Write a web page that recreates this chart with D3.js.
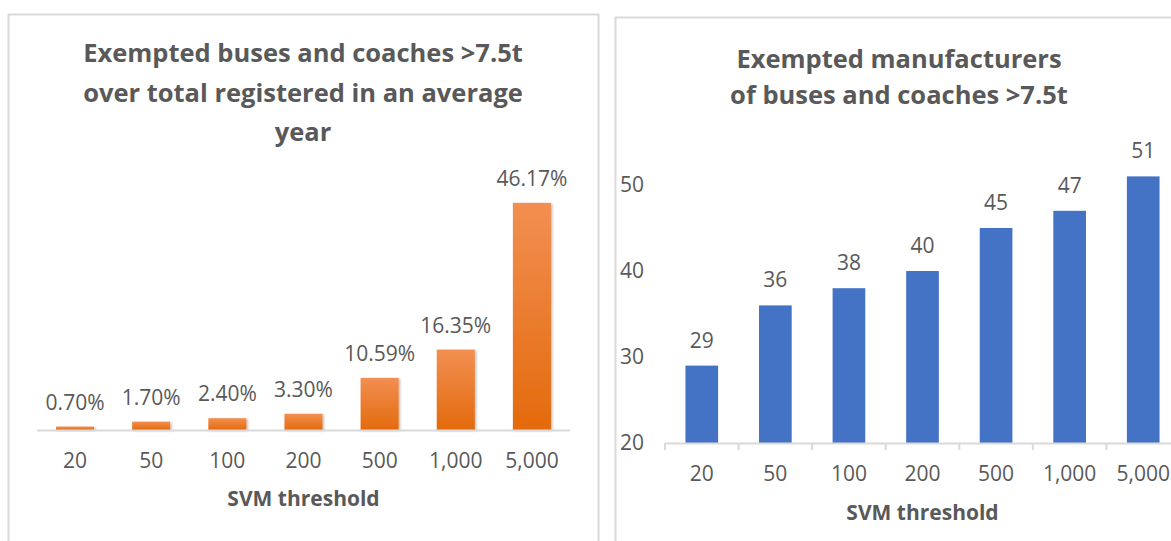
<!DOCTYPE html>
<html>
<head>
<meta charset="utf-8">
<script src="https://cdn.jsdelivr.net/npm/d3@7"></script>
<style>
  html, body { margin: 0; padding: 0; background: #fff; }
  svg { display: block; }
  text { font-family: 'Open Sans', 'Noto Sans', sans-serif; fill: #595959; }
</style>
</head>
<body>
<svg id="chart" width="1171" height="541"></svg>
<script>
// categories shared by both charts
const thresholds = ['20', '50', '100', '200', '500', '1,000', '5,000']

// left chart: share of exempted buses/coaches (%)
const exemptedShare = [0.70, 1.70, 2.40, 3.30, 10.59, 16.35, 46.17]
const leftTitle = ['Exempted buses and coaches >7.5t', 'over total registered in an average', 'year']

// right chart: number of exempted manufacturers
const exemptedManufacturers = [29, 36, 38, 40, 45, 47, 51]
const rightTitle = ['Exempted manufacturers', 'of buses and coaches >7.5t']
const rightTicks = [20, 30, 40, 50]

const axisTitle = 'SVM threshold'

const svg = d3.select('#chart')
const gridColor = '#d9d9d9'

var defs = svg.append('defs')
var grad = defs.append('linearGradient')
    .attr('id', 'orangeGrad')
    .attr('x1', 0).attr('y1', 0).attr('x2', 0).attr('y2', 1)
grad.append('stop').attr('offset', '0%').attr('stop-color', '#f28f52')
grad.append('stop').attr('offset', '100%').attr('stop-color', '#e36a0c')

var shadow = defs.append('filter').attr('id', 'barShadow')
    .attr('x', '-20%').attr('y', '-20%').attr('width', '150%').attr('height', '150%')
shadow.append('feDropShadow')
    .attr('dx', 1.5).attr('dy', 1).attr('stdDeviation', 1.2)
    .attr('flood-color', '#000').attr('flood-opacity', 0.25)

/* ===== panel frames ===== */
svg.append('rect')
    .attr('x', 8.5).attr('y', 14.5).attr('width', 590).attr('height', 560)
    .style('fill', 'none').style('stroke', gridColor).style('stroke-width', '2px')

svg.append('rect')
    .attr('x', 615.5).attr('y', 17.5).attr('width', 600).attr('height', 560)
    .style('fill', 'none').style('stroke', gridColor).style('stroke-width', '2px')

/* ===== left chart ===== */
const left = svg.append('g').attr('class', 'left')

left.append('text')
    .attr('text-anchor', 'middle')
    .style('font-size', '25.5px').style('font-weight', 'bold')
    .selectAll('tspan')
    .data(leftTitle)
    .enter().append('tspan')
    .attr('x', 303)
    .attr('y', (d, i) => 62 + i * 39.5)
    .text(d => d)

var xL = d3.scaleBand()
    .domain(thresholds)
    .range([37, 570])
    .paddingInner(0.5)
    .paddingOuter(0.25)

var yL = d3.scaleLinear()
    .domain([0, 50])
    .range([430, 184])

left.selectAll('rect.bar')
    .data(exemptedShare)
    .enter().append('rect')
    .attr('class', 'bar')
    .attr('x', (d, i) => xL(thresholds[i]))
    .attr('y', d => yL(d))
    .attr('width', xL.bandwidth())
    .attr('height', d => yL(0) - yL(d))
    .style('fill', 'url(#orangeGrad)')
    .style('filter', 'url(#barShadow)')

left.append('line')
    .attr('x1', 37).attr('x2', 570)
    .attr('y1', yL(0) + 0.5).attr('y2', yL(0) + 0.5)
    .style('stroke', gridColor).style('stroke-width', '2px')

left.selectAll('text.value')
    .data(exemptedShare)
    .enter().append('text')
    .attr('class', 'value')
    .attr('text-anchor', 'middle')
    .attr('x', (d, i) => xL(thresholds[i]) + xL.bandwidth() / 2)
    .attr('y', d => yL(d) - 17)
    .style('font-size', '21px')
    .text(d => d.toFixed(2) + '%')

var xAxisL = left.append('g')
    .attr('transform', `translate(0,${yL(0)})`)
    .call(d3.axisBottom(xL).tickSize(0).tickPadding(38))
xAxisL.select('.domain').remove()
xAxisL.selectAll('text')
    .attr('dy', 0)
    .style('font-size', '21px')
    .style('font-family', null)
    .attr('fill', null)

left.append('text')
    .attr('text-anchor', 'middle')
    .attr('x', (37 + 570) / 2)
    .attr('y', 506)
    .style('font-size', '21px').style('font-weight', 'bold')
    .text(axisTitle)

/* ===== right chart ===== */
const right = svg.append('g').attr('class', 'right')

right.append('text')
    .attr('text-anchor', 'middle')
    .style('font-size', '25.5px').style('font-weight', 'bold')
    .selectAll('tspan')
    .data(rightTitle)
    .enter().append('tspan')
    .attr('x', 899)
    .attr('y', (d, i) => 68 + i * 35.5)
    .text(d => d)

var xR = d3.scaleBand()
    .domain(thresholds)
    .range([665, 1180])
    .paddingInner(0.556)
    .paddingOuter(0.278)

var yR = d3.scaleLinear()
    .domain([20, 55])
    .range([443, 443 - 35 * 8.6])

right.selectAll('rect.bar')
    .data(exemptedManufacturers)
    .enter().append('rect')
    .attr('class', 'bar')
    .attr('x', (d, i) => xR(thresholds[i]))
    .attr('y', d => yR(d))
    .attr('width', xR.bandwidth())
    .attr('height', d => yR(20) - yR(d))
    .style('fill', '#4472c4')

// category axis with tick marks between the bars
var xAxisR = right.append('g')
    .attr('transform', `translate(0,${yR(20)})`)
xAxisR.append('line')
    .attr('x1', 665).attr('x2', 1180)
    .attr('y1', 0.5).attr('y2', 0.5)
    .style('stroke', gridColor).style('stroke-width', '2px')
xAxisR.selectAll('line.tick')
    .data(thresholds.concat(['end']))
    .enter().append('line')
    .attr('class', 'tick')
    .attr('x1', (d, i) => 665 + i * xR.step())
    .attr('x2', (d, i) => 665 + i * xR.step())
    .attr('y1', 0).attr('y2', 7)
    .style('stroke', gridColor).style('stroke-width', '2px')
xAxisR.selectAll('text')
    .data(thresholds)
    .enter().append('text')
    .attr('text-anchor', 'middle')
    .attr('x', d => xR(d) + xR.bandwidth() / 2)
    .attr('y', 38)
    .style('font-size', '21px')
    .text(d => d)

var yAxisR = right.append('g')
    .attr('transform', 'translate(644,0)')
    .call(d3.axisLeft(yR).tickValues(rightTicks).tickSize(0).tickPadding(0))
yAxisR.select('.domain').remove()
yAxisR.selectAll('text')
    .style('font-size', '21px')
    .style('font-family', null)
    .attr('fill', null)

right.selectAll('text.value')
    .data(exemptedManufacturers)
    .enter().append('text')
    .attr('class', 'value')
    .attr('text-anchor', 'middle')
    .attr('x', (d, i) => xR(thresholds[i]) + xR.bandwidth() / 2)
    .attr('y', d => yR(d) - 18)
    .style('font-size', '21px')
    .text(d => d)

right.append('text')
    .attr('text-anchor', 'middle')
    .attr('x', (665 + 1180) / 2)
    .attr('y', 520)
    .style('font-size', '21px').style('font-weight', 'bold')
    .text(axisTitle)
</script>
</body>
</html>
